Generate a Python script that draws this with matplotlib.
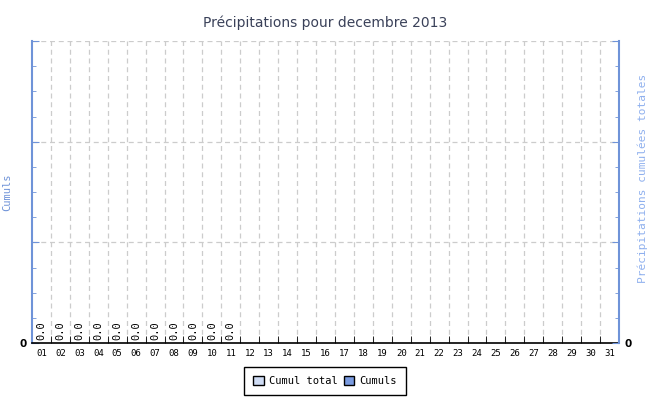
import numpy as np
import matplotlib
matplotlib.use("Agg")
import matplotlib.pyplot as plt
from matplotlib.patches import Patch
from matplotlib.ticker import MultipleLocator, FuncFormatter

# ---
# data
# ---
days = [f"{d:02d}" for d in range(1, 32)]
# daily precipitation (mm) - only first 11 days recorded, all zero
cumuls = [0.0] * 11 + [np.nan] * 20
cumul_total = [0.0] * 11 + [np.nan] * 20

title = "Précipitations pour decembre 2013"
left_label = "Cumuls"
right_label = "Précipitations cumulées totales"

# ---
# style
# ---
mono = "DejaVu Sans Mono"
blue_axis = "#6f93d8"
c_total = "#cfdcf4"
c_cumul = "#7a9be0"

fig = plt.figure(figsize=(6.5, 4), dpi=100)
ax = fig.add_axes([32 / 650, 57 / 400, 587 / 650, 302 / 400])

x = np.arange(len(days))
ax.bar(x, np.nan_to_num(cumul_total), width=0.8, color=c_total, edgecolor="black", linewidth=0)
ax.bar(x, np.nan_to_num(cumuls), width=0.8, color=c_cumul, edgecolor="black", linewidth=0)

# value labels
for i, v in enumerate(cumuls):
    if not np.isnan(v):
        ax.text(i, v + 0.03, f"{v:.1f}", rotation=90, ha="center", va="bottom",
                fontsize=7.5, family=mono, color="black")

ax.set_xlim(-0.5, len(days) - 0.5)
ax.set_ylim(0, 3)

# only zero gets a label
zero_only = FuncFormatter(lambda v, p: "0" if abs(v) < 1e-9 else "")

# x axis: ticks at day boundaries, labels at centres
ax.set_xticks(x)
ax.set_xticklabels(days, family=mono, fontsize=6.5)
ax.tick_params(axis="x", which="major", length=0, pad=4)
ax.set_xticks(np.arange(0.5, len(days) - 0.5), minor=True)
ax.tick_params(axis="x", which="minor", direction="in", length=5, color="black")
ax.xaxis.grid(True, which="minor", linestyle=(0, (4, 3)), color="#cccccc", linewidth=0.9)

# y axis
ax.yaxis.set_major_locator(MultipleLocator(1))
ax.yaxis.set_minor_locator(MultipleLocator(0.25))
ax.yaxis.set_major_formatter(zero_only)
ax.tick_params(axis="y", which="major", direction="in", length=5, color=blue_axis, pad=4,
               labelsize=7.5)
ax.tick_params(axis="y", which="minor", direction="in", length=3, color=blue_axis)
for t in ax.get_yticklabels():
    t.set_fontweight("bold")
ax.yaxis.grid(True, which="major", linestyle=(0, (4, 3)), color="#cccccc", linewidth=0.9)
ax.set_axisbelow(True)

ax.spines["top"].set_visible(False)
ax.spines["left"].set_color(blue_axis)
ax.spines["left"].set_linewidth(1.5)
ax.spines["right"].set_visible(False)
ax.spines["bottom"].set_color("black")
ax.spines["bottom"].set_linewidth(1.2)

ax.set_ylabel(left_label, color=blue_axis, family=mono, fontsize=7.5)
ax.yaxis.set_label_coords(-0.033, 0.5)

# right axis
ax2 = ax.twinx()
ax2.set_ylim(0, 3)
ax2.yaxis.set_major_locator(MultipleLocator(1))
ax2.yaxis.set_minor_locator(MultipleLocator(0.25))
ax2.yaxis.set_major_formatter(zero_only)
ax2.tick_params(axis="y", which="major", direction="in", length=5, color=blue_axis, pad=4,
                labelsize=7.5)
ax2.tick_params(axis="y", which="minor", direction="in", length=3, color=blue_axis)
for t in ax2.get_yticklabels():
    t.set_fontweight("bold")
for s in ["top", "left", "bottom"]:
    ax2.spines[s].set_visible(False)
ax2.spines["right"].set_color(blue_axis)
ax2.spines["right"].set_linewidth(1.5)
ax2.set_ylabel(right_label, color="#8fb0ee", family=mono, fontsize=8)
ax2.yaxis.set_label_coords(1.031, 0.545)

ax.set_title(title, color="#3a4159", fontsize=10, pad=10)

# legend
handles = [Patch(facecolor=c_total, edgecolor="black", label="Cumul total"),
           Patch(facecolor=c_cumul, edgecolor="black", label="Cumuls")]
leg = fig.legend(handles=handles, loc="center", bbox_to_anchor=(325 / 650, 1 - 381 / 400),
                 ncol=2, fancybox=False, edgecolor="black", framealpha=1,
                 prop={"family": mono, "size": 7.5}, handlelength=1.0, handleheight=1.0,
                 columnspacing=0.6, handletextpad=0.5, borderpad=0.85)
leg.get_frame().set_linewidth(1.0)

fig.savefig("out.png", dpi=100)
